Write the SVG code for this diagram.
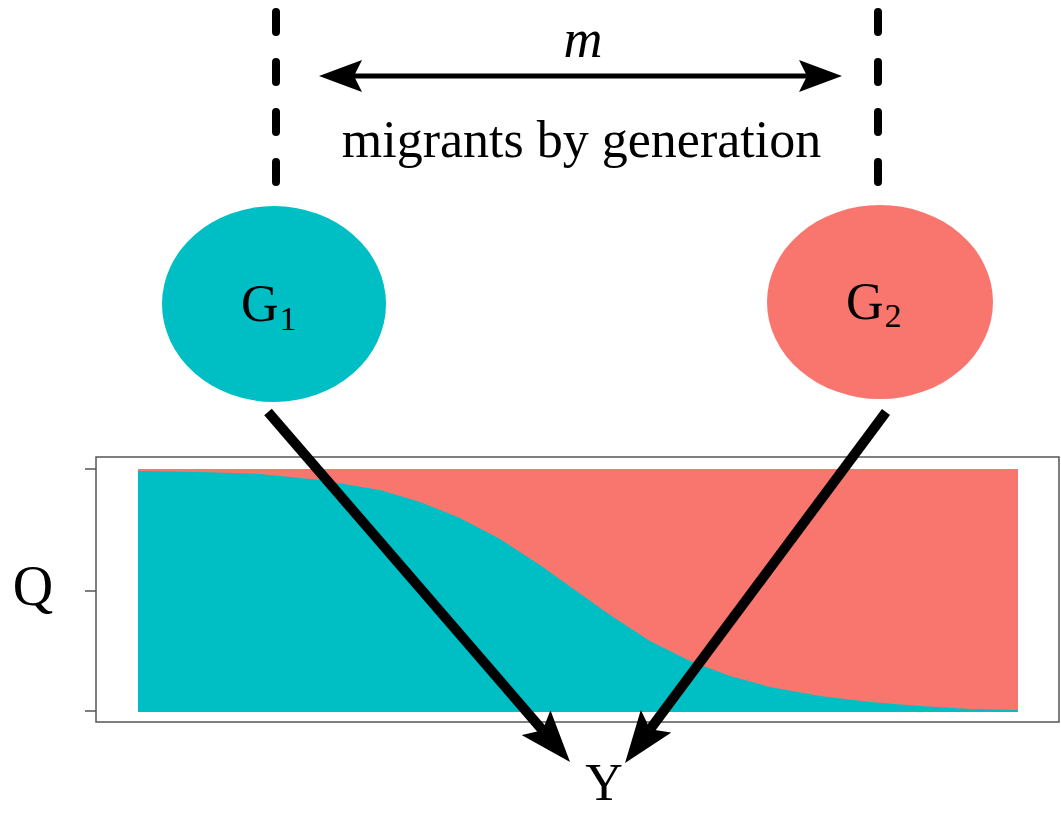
<svg xmlns="http://www.w3.org/2000/svg" width="1061" height="814" viewBox="0 0 1061 814">
<style>
.serif{font-family:"Liberation Serif","Times New Roman",serif;fill:#000}
.dash{stroke:#000;stroke-width:8;stroke-linecap:round;stroke-dasharray:20 30;fill:none}
.arr{stroke:#000;fill:none}
.tick{stroke:#555;stroke-width:1.5}
</style>
<defs>
<marker id="headH" viewBox="0 0 44 34" refX="8" refY="17" markerWidth="44" markerHeight="34" markerUnits="userSpaceOnUse" orient="auto-start-reverse">
<path d="M43,17 L0,1 L8,17 L0,33 Z" fill="#000"/>
</marker>
<marker id="headD" viewBox="0 0 52 38" refX="10" refY="19" markerWidth="52" markerHeight="38" markerUnits="userSpaceOnUse" orient="auto">
<path d="M52,19 L0,0 L10,19 L0,38 Z" fill="#000"/>
</marker>
</defs>
<rect width="1061" height="814" fill="#fff"/>
<g id="plot">
<rect x="96" y="457" width="963" height="265" fill="#fff" stroke="#555" stroke-width="1.5"/>
<line class="tick" x1="85" y1="469" x2="96" y2="469"/>
<line class="tick" x1="85" y1="591" x2="96" y2="591"/>
<line class="tick" x1="85" y1="711" x2="96" y2="711"/>
<rect x="138" y="469" width="880" height="243" fill="#F8766D"/>
<polygon fill="#00BFC4" points="138,712 138,471 200,472 260,474 320,480 380,490 420,502 460,518 500,539 540,565 575,590 610,615 650,641 690,661 730,676 770,687 820,696 870,702 920,706 970,709 1018,710 1018,712"/>
</g>
<g id="Q"><text class="serif" x="33" y="605" font-size="56" text-anchor="middle">Q</text></g>
<g id="Y"><text class="serif" x="604" y="800" font-size="52" text-anchor="middle">Y</text></g>
<g id="boundaries">
<line class="dash" x1="276" y1="12" x2="276" y2="183"/>
<line class="dash" x1="878" y1="12" x2="878" y2="183"/>
</g>
<g id="G1">
<ellipse cx="274" cy="304" rx="112" ry="98" fill="#00BFC4"/>
<text class="serif" x="241" y="321" font-size="52">G<tspan font-size="34" dx="1" dy="9">1</tspan></text>
</g>
<g id="G2">
<ellipse cx="880" cy="302" rx="113" ry="97" fill="#F8766D"/>
<text class="serif" x="846" y="319" font-size="52">G<tspan font-size="34" dx="1" dy="8">2</tspan></text>
</g>
<g id="connectors">
<line class="arr" stroke-width="5" x1="354" y1="76" x2="807" y2="76" marker-start="url(#headH)" marker-end="url(#headH)"/>
<line class="arr" stroke-width="10" x1="268" y1="412" x2="542.6" y2="730.2" marker-end="url(#headD)"/>
<line class="arr" stroke-width="10" x1="886" y1="412" x2="650.1" y2="729.3" marker-end="url(#headD)"/>
</g>
<g id="labels">
<text class="serif" x="583" y="57" font-size="54" font-style="italic" text-anchor="middle">m</text>
<text class="serif" x="581.5" y="157" font-size="52" text-anchor="middle">migrants by generation</text>
</g>
</svg>
